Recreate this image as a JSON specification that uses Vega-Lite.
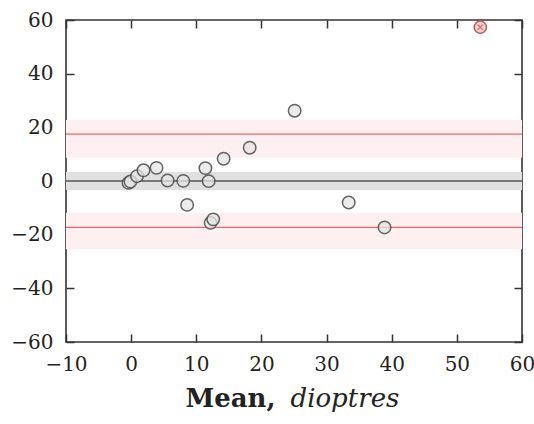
{
  "$schema": "https://vega.github.io/schema/vega-lite/v6.json",
  "width": 456,
  "height": 322,
  "autosize": {"type": "none"},
  "padding": {"left": 66, "top": 20, "right": 12, "bottom": 82},
  "config": {
    "view": {"stroke": "#333333", "strokeWidth": 1.6},
    "axis": {
      "domain": false,
      "grid": false,
      "labelFont": "DejaVu Serif",
      "labelFontSize": 20,
      "labelColor": "#222222",
      "tickColor": "#333333",
      "tickWidth": 1.5,
      "tickSize": 8,
      "offset": -8,
      "titleFont": "DejaVu Serif",
      "titleFontSize": 26,
      "titleColor": "#222222"
    }
  },
  "resolve": {"axis": {"x": "independent", "y": "independent"}},
  "layer": [
    {
      "data": {"values": [{"lo": 8.7, "hi": 22.7}, {"lo": -25.4, "hi": -11.8}]},
      "mark": {"type": "rect", "color": "#fef0f0"},
      "encoding": {
        "y": {"field": "lo", "type": "quantitative", "scale": {"domain": [-60, 60], "nice": false}, "axis": null},
        "y2": {"field": "hi"}
      }
    },
    {
      "data": {"values": [{"lo": -3.4, "hi": 3.4}]},
      "mark": {"type": "rect", "color": "#e0e0e0"},
      "encoding": {
        "y": {"field": "lo", "type": "quantitative", "scale": {"domain": [-60, 60], "nice": false}, "axis": null},
        "y2": {"field": "hi"}
      }
    },
    {
      "data": {"values": [{"v": 17.5}, {"v": -17.3}]},
      "mark": {"type": "rule", "color": "#e06a6a", "strokeWidth": 1.2},
      "encoding": {
        "y": {"field": "v", "type": "quantitative", "scale": {"domain": [-60, 60], "nice": false}, "axis": null}
      }
    },
    {
      "data": {"values": [{"v": 0}]},
      "mark": {"type": "rule", "color": "#555555", "strokeWidth": 1.5},
      "encoding": {
        "y": {"field": "v", "type": "quantitative", "scale": {"domain": [-60, 60], "nice": false}, "axis": null}
      }
    },
    {
      "data": {"values": [
        {"mean": -0.4, "diff": -0.7},
        {"mean": -0.1, "diff": -0.2},
        {"mean": 0.9, "diff": 1.8},
        {"mean": 1.9, "diff": 4.0},
        {"mean": 3.9, "diff": 4.9},
        {"mean": 5.6, "diff": 0.2},
        {"mean": 8.0, "diff": 0.05},
        {"mean": 8.6, "diff": -8.9},
        {"mean": 11.4, "diff": 4.8},
        {"mean": 11.9, "diff": -0.05},
        {"mean": 12.2, "diff": -15.6},
        {"mean": 12.6, "diff": -14.3},
        {"mean": 14.2, "diff": 8.3},
        {"mean": 18.2, "diff": 12.4},
        {"mean": 25.1, "diff": 26.2},
        {"mean": 33.4, "diff": -8.0},
        {"mean": 38.9, "diff": -17.3}
      ]},
      "mark": {"type": "point", "shape": "circle", "filled": false, "fill": "#e4e4e4", "fillOpacity": 0.75, "stroke": "#4a4a4a", "strokeOpacity": 0.85, "strokeWidth": 1.5, "size": 155},
      "encoding": {
        "x": {"field": "mean", "type": "quantitative", "scale": {"domain": [-10, 60], "nice": false},
              "axis": {"orient": "bottom", "values": [-10, 0, 10, 20, 30, 40, 50, 60], "labelPadding": 12, "labelFlush": false,
                       "title": "Mean,", "titleFontWeight": "bold", "titleAlign": "right", "titleBaseline": "alphabetic", "titleX": 209, "titleY": 72}},
        "y": {"field": "diff", "type": "quantitative", "scale": {"domain": [-60, 60], "nice": false},
              "axis": {"orient": "left", "values": [-60, -40, -20, 0, 20, 40, 60], "labelPadding": 13, "labelFlush": false, "title": null}}
      }
    },
    {
      "data": {"values": [{"mean": 53.6, "diff": 57.3}]},
      "mark": {"type": "point", "shape": "circle", "filled": false, "fill": "#f3c9c9", "fillOpacity": 0.8, "stroke": "#b06060", "strokeWidth": 1.5, "size": 150},
      "encoding": {
        "x": {"field": "mean", "type": "quantitative", "scale": {"domain": [-10, 60], "nice": false},
              "axis": {"orient": "top", "values": [-10, 0, 10, 20, 30, 40, 50, 60], "labels": false, "title": null}},
        "y": {"field": "diff", "type": "quantitative", "scale": {"domain": [-60, 60], "nice": false},
              "axis": {"orient": "right", "values": [-60, -40, -20, 0, 20, 40, 60], "labels": false, "title": null}}
      }
    },
    {
      "data": {"values": [{"mean": 53.6, "diff": 57.3}]},
      "mark": {"type": "point", "shape": "M-1,-1L1,1M1,-1L-1,1", "filled": false, "stroke": "#d84040", "strokeWidth": 1.2, "size": 30},
      "encoding": {
        "x": {"field": "mean", "type": "quantitative", "scale": {"domain": [-10, 60], "nice": false},
              "axis": {"orient": "bottom", "offset": 0, "labels": false, "ticks": false, "title": "dioptres", "titleFontStyle": "italic", "titleFontWeight": "normal",
                       "titleAlign": "left", "titleBaseline": "alphabetic", "titleX": 224, "titleY": 64}},
        "y": {"field": "diff", "type": "quantitative", "scale": {"domain": [-60, 60], "nice": false}, "axis": null}
      }
    }
  ]
}
